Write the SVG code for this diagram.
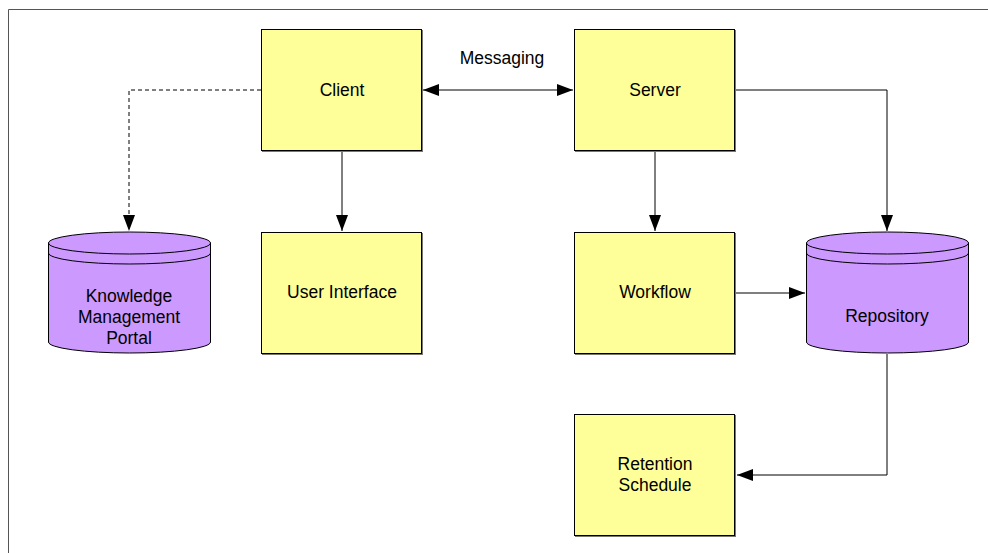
<svg xmlns="http://www.w3.org/2000/svg" width="988" height="553" viewBox="0 0 988 553">
<defs>
<marker id="ah" viewBox="0 0 16 12" refX="16" refY="6" markerWidth="16" markerHeight="12" markerUnits="userSpaceOnUse" orient="auto-start-reverse">
<path d="M0,0 L16,6 L0,12 Z" fill="#000"/>
</marker>
</defs>
<style>
.box{fill:#FFFF99;stroke:#000;stroke-width:1}
.shadow{fill:#777}
.cyl{fill:#CC99FF;stroke:#000;stroke-width:1}
.line{fill:none;stroke:#000;stroke-width:1}
text{font-family:"Liberation Sans",Arial,sans-serif;font-size:17.5px;fill:#000;text-anchor:middle}
</style>
<rect width="988" height="553" fill="#fff"/>
<path d="M8.5,553 V9.5 H988" fill="none" stroke="#555" stroke-width="1"/>
<g id="connectors">
<path class="line" d="M261,90 H129 V231" stroke-dasharray="4,3" marker-end="url(#ah)"/>
<path class="line" d="M342,151 V231" marker-end="url(#ah)"/>
<path class="line" d="M423,90 H573" stroke="#555" stroke-width="1.5" marker-start="url(#ah)" marker-end="url(#ah)"/>
<path class="line" d="M736,90 H887 V231" marker-end="url(#ah)"/>
<path class="line" d="M655,151 V231" marker-end="url(#ah)"/>
<path class="line" d="M736,293 H805" marker-end="url(#ah)"/>
<path class="line" d="M887,354 V475 H737" marker-end="url(#ah)"/>
</g>
<text x="502" y="64">Messaging</text>
<g id="client">
<rect class="shadow" x="262" y="30" width="161" height="122"/>
<rect class="box" x="261.5" y="29.5" width="160" height="121"/>
<text x="342" y="96">Client</text>
</g>
<g id="server">
<rect class="shadow" x="575" y="30" width="161" height="122"/>
<rect class="box" x="574.5" y="29.5" width="160" height="121"/>
<text x="655" y="96">Server</text>
</g>
<g id="user-interface">
<rect class="shadow" x="262" y="233" width="161" height="122"/>
<rect class="box" x="261.5" y="232.5" width="160" height="121"/>
<text x="342" y="298">User Interface</text>
</g>
<g id="workflow">
<rect class="shadow" x="575" y="233" width="161" height="122"/>
<rect class="box" x="574.5" y="232.5" width="160" height="121"/>
<text x="655" y="298">Workflow</text>
</g>
<g id="retention-schedule">
<rect class="shadow" x="575" y="415" width="161" height="122"/>
<rect class="box" x="574.5" y="414.5" width="160" height="121"/>
<text x="655" y="470">Retention</text>
<text x="655" y="491">Schedule</text>
</g>
<g id="knowledge-management-portal">
<path class="cyl" d="M48.5,243 A81,11 0 0 1 210.5,243 V342 A81,11 0 0 1 48.5,342 Z"/>
<path class="line" d="M48.5,243 A81,11 0 0 0 210.5,243"/>
<path class="line" d="M48.5,253 A81,11 0 0 0 210.5,253"/>
<text x="129" y="302">Knowledge</text>
<text x="129" y="323">Management</text>
<text x="129" y="344">Portal</text>
</g>
<g id="repository">
<path class="cyl" d="M806.5,243 A81,11 0 0 1 968.5,243 V342 A81,11 0 0 1 806.5,342 Z"/>
<path class="line" d="M806.5,243 A81,11 0 0 0 968.5,243"/>
<path class="line" d="M806.5,253 A81,11 0 0 0 968.5,253"/>
<text x="887" y="322">Repository</text>
</g>
</svg>
